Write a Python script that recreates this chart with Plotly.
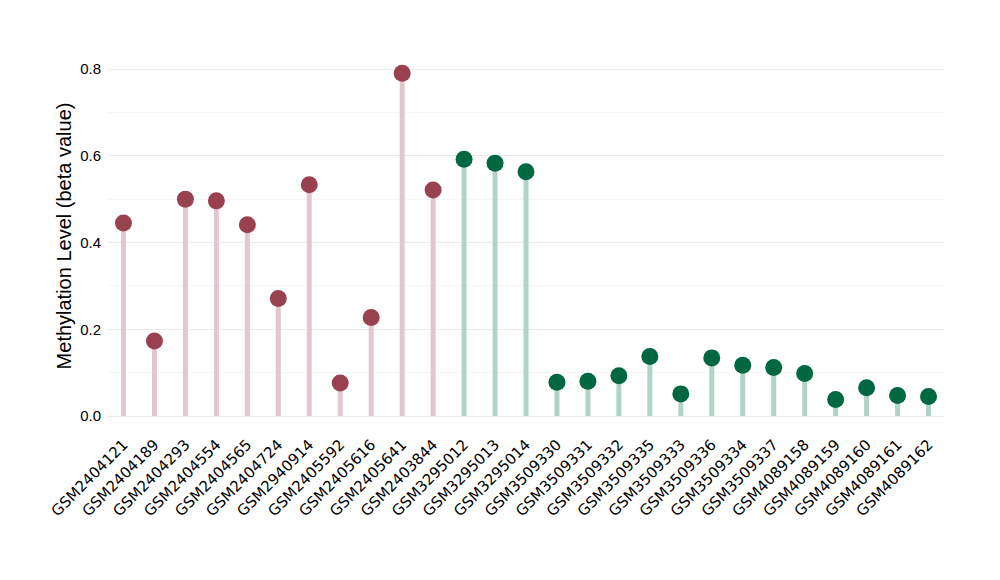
import plotly.graph_objects as go

samples = ["GSM2404121", "GSM2404189", "GSM2404293", "GSM2404554", "GSM2404565",
           "GSM2404724", "GSM2940914", "GSM2405592", "GSM2405616", "GSM2405641",
           "GSM2403844", "GSM3295012", "GSM3295013", "GSM3295014", "GSM3509330",
           "GSM3509331", "GSM3509332", "GSM3509335", "GSM3509333", "GSM3509336",
           "GSM3509334", "GSM3509337", "GSM4089158", "GSM4089159", "GSM4089160",
           "GSM4089161", "GSM4089162"]
values = [0.445, 0.173, 0.500, 0.496, 0.441, 0.271, 0.533, 0.076, 0.227, 0.790,
          0.521, 0.592, 0.583, 0.563, 0.078, 0.080, 0.093, 0.137, 0.051, 0.134,
          0.117, 0.112, 0.098, 0.038, 0.065, 0.047, 0.045]
groups = ["red"] * 11 + ["green"] * 16

dot_colors = {"red": "#9A4150", "green": "#006840"}
stem_colors = {"red": "#E4C6CD", "green": "#B2D4C8"}

fig = go.Figure()
for g in ["red", "green"]:
    xs, ys = [], []
    px, py = [], []
    for s, v, gg in zip(samples, values, groups):
        if gg != g:
            continue
        xs += [s, s, None]
        ys += [0, v, None]
        px.append(s)
        py.append(v)
    fig.add_trace(go.Scatter(x=xs, y=ys, mode="lines",
                             line=dict(color=stem_colors[g], width=5),
                             hoverinfo="skip", showlegend=False))
    fig.add_trace(go.Scatter(x=px, y=py, mode="markers",
                             marker=dict(color=dot_colors[g], size=17, line=dict(width=0)),
                             showlegend=False))

fig.update_layout(
    width=1000, height=580,
    margin=dict(l=100, r=64, t=48, b=172, autoexpand=False),
    plot_bgcolor="white", paper_bgcolor="white",
    font=dict(family="Liberation Sans, Arial, sans-serif", color="#000000"),
)
fig.update_xaxes(
    categoryorder="array", categoryarray=samples,
    range=[-0.5, 26.5], tickangle=-45,
    tickfont=dict(family="DejaVu Sans", size=15),
    ticklabelstandoff=16,
    showgrid=False, zeroline=False, showline=False, ticks="", automargin=False,
)
fig.update_yaxes(
    range=[0, 0.83], tickmode="array", tickvals=[0, 0.2, 0.4, 0.6, 0.8],
    ticktext=["0.0", "0.2", "0.4", "0.6", "0.8"], tickfont=dict(size=15),
    ticklabelstandoff=6,
    showgrid=True, gridcolor="#EBEBEB", gridwidth=1,
    minor=dict(tickvals=[0.1, 0.3, 0.5, 0.7], showgrid=True, gridcolor="#F6F6F6", gridwidth=1),
    zeroline=True, zerolinecolor="#EBEBEB", zerolinewidth=1,
    showline=False, ticks="", automargin=False,
    title=dict(text="Methylation Level (beta value)", font=dict(size=20), standoff=3),
)

fig.write_html("out.html")
